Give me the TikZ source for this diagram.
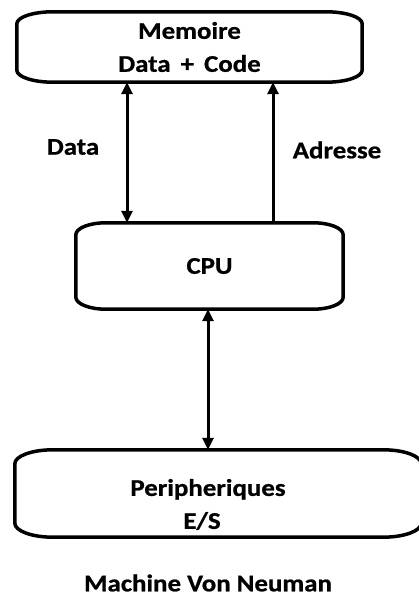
\documentclass[tikz,border=0pt]{standalone}
\usepackage{fontspec}
\setmainfont{Carlito}[FakeStretch=1.12, BoldFeatures={FakeBold=0.8}]
\usetikzlibrary{arrows.meta,calc}

\tikzset{
  txt/.style={inner sep=0pt, align=center, text=black,
              font=\bfseries\fontsize{24}{33}\selectfont},
  box/.style={txt, draw=none},
  frame/.style={line width=3.5pt, black, line join=round},
  link/.style={line width=3pt, black},
  tip/.style={-{Triangle[length=12pt,width=11pt]}},
  bitip/.style={{Triangle[length=12pt,width=11pt]}-{Triangle[length=12pt,width=11pt]}}
}

% outline of a box with elliptical corners: node name, x radius, y radius
\newcommand\ovalframe[3]{%
  \draw[frame]
    ([xshift=#2]#1.north west) -- ([xshift=-#2]#1.north east)
    arc[start angle=90, end angle=0, x radius=#2, y radius=#3]
    -- ([yshift=#3]#1.south east)
    arc[start angle=0, end angle=-90, x radius=#2, y radius=#3]
    -- ([xshift=#2]#1.south west)
    arc[start angle=270, end angle=180, x radius=#2, y radius=#3]
    -- ([yshift=-#3]#1.north west)
    arc[start angle=180, end angle=90, x radius=#2, y radius=#3]
    -- cycle;}

\begin{document}
\begin{tikzpicture}[x=1pt,y=1pt]
  \useasboundingbox (0,0) rectangle (419,605);

  % blocks
  \node[box, minimum width=345pt, minimum height=70pt] (mem) at (189.5,558)
    {Memoire\\Data\kern4pt{} + \kern4pt Code};
  \node[box, minimum width=267pt, minimum height=86pt] (cpu) at (209.5,339) {CPU};
  \node[box, minimum width=406pt, minimum height=87pt] (io) at (218,111.5) {};
  \node[txt] (iotext) at (208,100.5) {Peripheriques\\E/S\kern12pt};

  \ovalframe{mem}{36pt}{12pt}
  \ovalframe{cpu}{30pt}{12pt}
  \ovalframe{io}{38pt}{14pt}

  % bus labels and caption
  \node[txt] (datalbl) at (73,458) {Data};
  \node[txt] (adrlbl) at (337,455) {Adresse};
  \node[txt] (title) at (208,22) {Machine Von Neuman};

  % buses
  \coordinate (xdata) at (127,0);
  \coordinate (xadr) at (273,0);
  \coordinate (xio) at (208,0);
  \draw[link, bitip] (xdata |- mem.south) -- (xdata |- cpu.north);
  \draw[link, tip] (xadr |- cpu.north) -- (xadr |- mem.south);
  \draw[link, bitip] (xio |- cpu.south) -- (xio |- io.north);
\end{tikzpicture}
\end{document}
